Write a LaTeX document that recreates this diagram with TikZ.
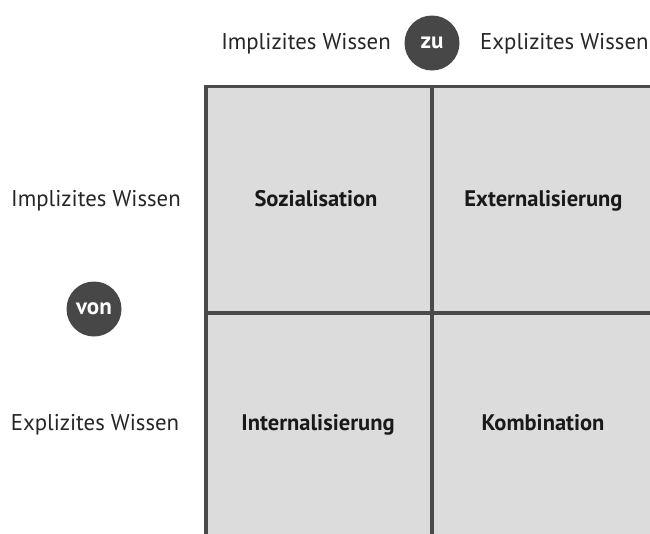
\documentclass[tikz,border=0pt]{standalone}
\usepackage{fontspec}
\setmainfont{PT Sans}
\usetikzlibrary{positioning}

\definecolor{cellgray}{HTML}{DCDCDD}
\definecolor{linegray}{HTML}{4A4A4A}
\definecolor{dotgray}{HTML}{474747}

\begin{document}
\begin{tikzpicture}
    [
        x=1pt, y=-1pt,
        Grid/.style={linegray, line width=3.5pt},
        TextBox/.style={font=\fontsize{22.8}{26}\selectfont, text=black!85, inner sep=0pt},
        Field/.style={font=\bfseries\fontsize{22.5}{26}\selectfont, text=black!90, inner sep=0pt, anchor=base},
        Dot/.style={circle, fill=dotgray, minimum size=55pt, inner sep=0pt, text=white,
            font=\bfseries\fontsize{23}{26}\selectfont}
    ]
    \useasboundingbox (0,0) rectangle (650,533);
    \clip (0,0) rectangle (650,533);

    % the four fields
    \fill[cellgray] (206,86.5) rectangle (660,540);
    \draw[Grid] (206,540) -- (206,86.5) -- (660,86.5);
    \draw[Grid] (432,86.5) -- (432,540);
    \draw[Grid] (206,313) -- (660,313);

    \node[Field] (Sozialisation) at (316,206) {Sozialisation};
    \node[Field] (Externalisierung) at (543.5,206) {Externalisierung};
    \node[Field] (Internalisierung) at (318,430) {Internalisierung};
    \node[Field] (Kombination) at (543,430) {Kombination};

    % from / to
    \node[Dot] (Zu) at (432,43) {zu};
    \node[TextBox, anchor=base east] (ToImplicit) at (391,49) {Implizites Wissen};
    \node[TextBox, anchor=base west] (ToExplicit) at (480,49) {Explizites Wissen};

    \node[Dot] (Von) at (94,309) {von};
    \node[TextBox, anchor=base] (FromImplicit) at (96,206.5) {Implizites Wissen};
    \node[TextBox, anchor=base] (FromExplicit) at (95,430) {Explizites Wissen};
\end{tikzpicture}
\end{document}
